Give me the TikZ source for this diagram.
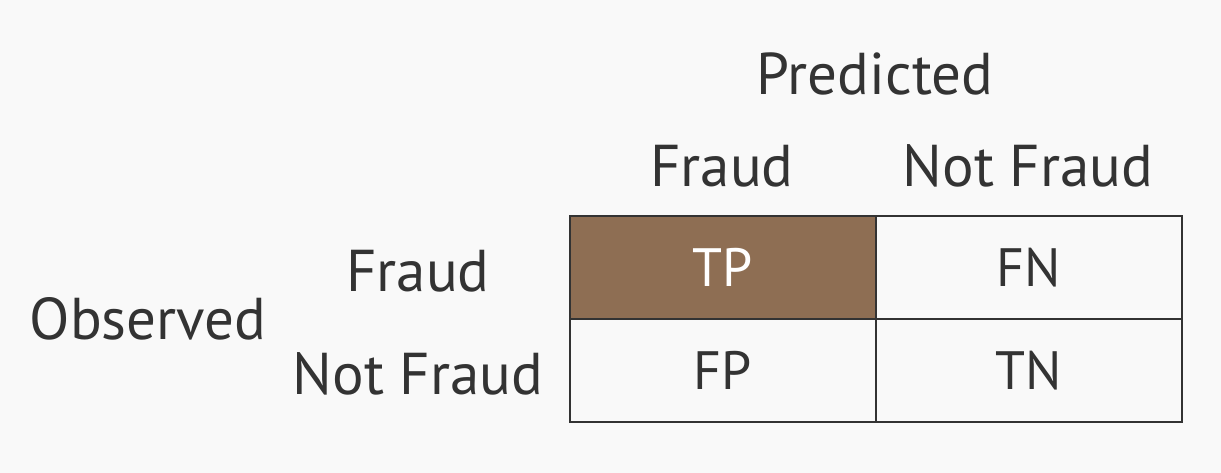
\documentclass[tikz,border=0pt]{standalone}
\usepackage{fontspec}
\setmainfont{PT Sans}
\definecolor{bg}{HTML}{F9F9F9}
\definecolor{ink}{HTML}{333333}
\definecolor{tpfill}{HTML}{8E6E53}
\begin{document}
\begin{tikzpicture}[x=1pt,y=1pt,
  lbl/.style={text=ink,font=\fontsize{59}{64}\selectfont,inner sep=0pt,anchor=base},
  cell/.style={draw=ink,line width=2pt,minimum width=306pt,minimum height=103pt,inner sep=0pt,anchor=north west},
  celltxt/.style={font=\fontsize{54}{60}\selectfont,text=ink}]
\fill[bg] (0,0) rectangle (1221,473);
\useasboundingbox (0,0) rectangle (1221,473);
\node[cell,fill=tpfill] (tp) at (569,258) {};
\node[cell] (fn) at (875,258) {};
\node[cell] (fp) at (569,155) {};
\node[cell] (tn) at (875,155) {};
\node[celltxt,text=white,anchor=base] (tptxt) at ([yshift=-19pt]tp.center) {TP};
\node[celltxt,anchor=base] (fntxt) at ([yshift=-19pt]fn.center) {FN};
\node[celltxt,anchor=base] (fptxt) at ([yshift=-19pt]fp.center) {FP};
\node[celltxt,anchor=base] (tntxt) at ([yshift=-19pt]tn.center) {TN};
\node[lbl] (pred) at (875,378) {Predicted};
\node[lbl] (cfraud) at (722,286) {Fraud};
\node[lbl] (cnot) at (1028,286) {Not Fraud};
\node[lbl] (rfraud) at (418,181) {Fraud};
\node[lbl] (rnot) at (418,78) {Not Fraud};
\node[lbl] (obs) at (148,133) {Observed};
\end{tikzpicture}
\end{document}
